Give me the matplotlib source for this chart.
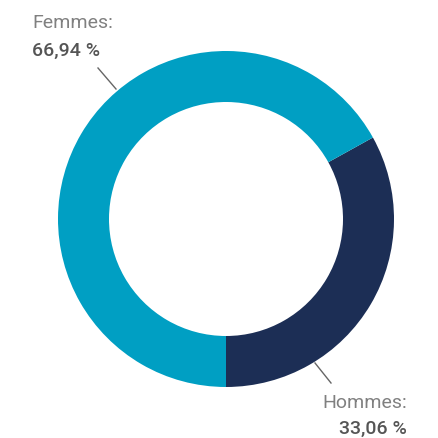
import matplotlib.pyplot as plt

labels = ["Hommes", "Femmes"]
values = [33.06, 66.94]
colors = ["#1c2e55", "#009fc3"]
value_text = ["33,06 %", "66,94 %"]

fig = plt.figure(figsize=(4.39, 4.38), dpi=100)
ax = fig.add_axes([0, 0, 1, 1])

# donut, Hommes starts at the bottom
ax.pie(values, colors=colors, startangle=-90, counterclock=True,
       center=(226, 219), radius=168,
       wedgeprops=dict(width=51, edgecolor="none"), frame=True)
ax.set_xlim(0, 439)
ax.set_ylim(0, 438)
ax.set_aspect("equal")
ax.axis("off")

font = "Roboto"
# Femmes label
ax.text(32, 410, labels[1] + ":", fontsize=14, family=font, fontweight="normal",
        color="#808080", ha="left", va="baseline")
ax.text(32, 382, value_text[1], fontsize=14, family=font, fontweight="medium",
        color="#555555", ha="left", va="baseline")
ax.plot([98, 116], [438 - 68, 438 - 89], color="#666666", lw=1)

# Hommes label
ax.text(407, 30, labels[0] + ":", fontsize=14, family=font, fontweight="normal",
        color="#808080", ha="right", va="baseline")
ax.text(407, 4, value_text[0], fontsize=14, family=font, fontweight="medium",
        color="#555555", ha="right", va="baseline")
ax.plot([315, 331], [438 - 363, 438 - 383], color="#666666", lw=1)

plt.savefig("out.png", dpi=100)
